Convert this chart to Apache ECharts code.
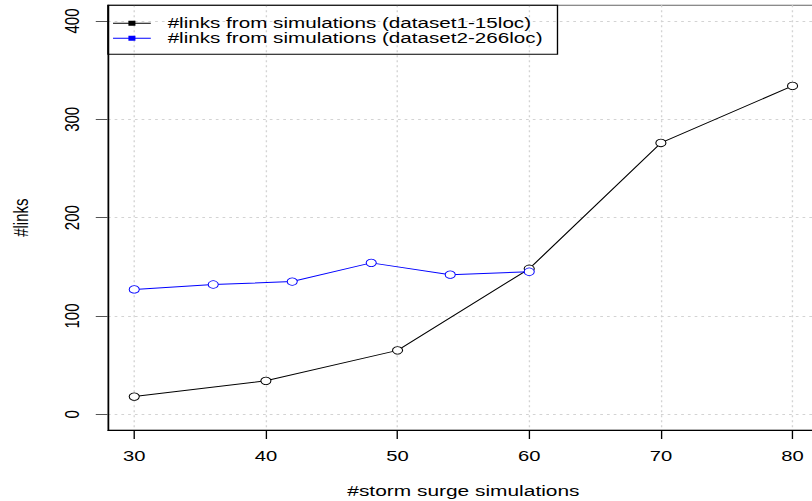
<!DOCTYPE html>
<html>
<head>
<meta charset="utf-8">
<script src="https://cdn.jsdelivr.net/npm/echarts@6/dist/echarts.min.js"></script>
<style>
  html, body { margin: 0; padding: 0; background: #fff; overflow: hidden; }
  #wrap { width: 812px; height: 501px; overflow: hidden; position: relative; }
  /* the plot is laid out on a narrower canvas and widened, like the original device */
  #chart { width: 602px; height: 501px; transform: scaleX(1.34884); transform-origin: 0 0; }
</style>
</head>
<body>
<div id="wrap"><div id="chart"></div></div>
<script>
// tick positions
const xTicks = [30, 40, 50, 60, 70, 80];
const yTicks = [0, 100, 200, 300, 400];

// dataset 1 (15 locations)
const sims1  = [30, 40, 50, 60, 70, 80];
const links1 = [18, 34, 65, 148, 276, 334];

// dataset 2 (266 locations)
const sims2  = [30, 36, 42, 48, 54, 60];
const links2 = [127, 132, 135, 154, 142, 145];

const name1 = '#links from simulations (dataset1-15loc)';
const name2 = '#links from simulations (dataset2-266loc)';

const FONT = '"Liberation Sans", Arial, Helvetica, sans-serif';
const pairs = (xs, ys) => xs.map((x, i) => [x, ys[i]]);
// legend key: short line with a filled square in the middle
const keyIcon = 'path://M0,2.5H28V3.5H0Z M11.4,0.5H16.6V5.5H11.4Z';

const chart = echarts.init(document.getElementById('chart'), null, { renderer: 'svg' });

chart.setOption({
  animation: false,
  backgroundColor: '#fff',
  textStyle: { fontFamily: FONT, color: '#000' },
  grid: {
    left: 80, top: 5.3, width: 527.1, height: 424.7,
    show: true, borderColor: '#666', borderWidth: 1,
    backgroundColor: 'transparent', containLabel: false,
    outerBoundsMode: 'none'
  },
  legend: {
    orient: 'vertical',
    left: 80, top: 5.3,
    padding: [10.5, 11, 8.5, 3.8],
    itemGap: 0,
    itemWidth: 28, itemHeight: 6,
    borderColor: '#000', borderWidth: 1,
    backgroundColor: 'transparent',
    selectedMode: false,
    itemStyle: { borderWidth: 0 },
    textStyle: { fontSize: 15.3, lineHeight: 15, color: '#000', fontFamily: FONT, padding: [0, 0, 0, 7.5] },
    data: [
      { name: name1, icon: keyIcon, itemStyle: { color: '#000', borderWidth: 0 } },
      { name: name2, icon: keyIcon, itemStyle: { color: '#0000ff', borderWidth: 0 } }
    ]
  },
  xAxis: {
    type: 'value', min: 28, max: 82,
    name: '#storm surge simulations', nameLocation: 'middle', nameGap: 53,
    nameTextStyle: { fontSize: 15.5, lineHeight: 15, color: '#000', fontFamily: FONT },
    axisLine: { show: true, onZero: false, lineStyle: { color: '#000', width: 1 } },
    axisTick: { show: true, length: 9, customValues: xTicks, lineStyle: { color: '#000', width: 1 } },
    axisLabel: { customValues: xTicks, fontSize: 15, lineHeight: 15, color: '#000', margin: 18, fontFamily: FONT },
    splitLine: { show: true, lineStyle: { color: '#d3d3d3', width: 1, type: [2, 3] } }
  },
  yAxis: {
    type: 'value', min: -16, max: 416,
    name: '#links', nameLocation: 'middle', nameGap: 56.7, nameRotate: 90,
    nameTextStyle: { fontSize: 15, lineHeight: 15, color: '#000', fontFamily: FONT },
    axisLine: { show: true, onZero: false, lineStyle: { color: '#000', width: 1 } },
    axisTick: { show: true, length: 9, customValues: yTicks, lineStyle: { color: '#555', width: 1 } },
    axisLabel: { customValues: yTicks, rotate: 90, fontSize: 15, lineHeight: 15, color: '#000', margin: 19.2, fontFamily: FONT },
    splitLine: { show: true, lineStyle: { color: '#d3d3d3', width: 1, type: [2, 3] } }
  },
  series: [
    {
      name: name1, type: 'line', data: pairs(sims1, links1),
      symbol: 'circle', symbolSize: 7.5,
      lineStyle: { color: '#000', width: 1 },
      itemStyle: { color: '#fff', borderColor: '#000', borderWidth: 0.8 },
      emphasis: { disabled: true }
    },
    {
      name: name2, type: 'line', data: pairs(sims2, links2),
      symbol: 'circle', symbolSize: 7.5,
      lineStyle: { color: '#0000ff', width: 1 },
      itemStyle: { color: '#fff', borderColor: '#0000ff', borderWidth: 0.75 },
      emphasis: { disabled: true }
    }
  ]
});
</script>
</body>
</html>
